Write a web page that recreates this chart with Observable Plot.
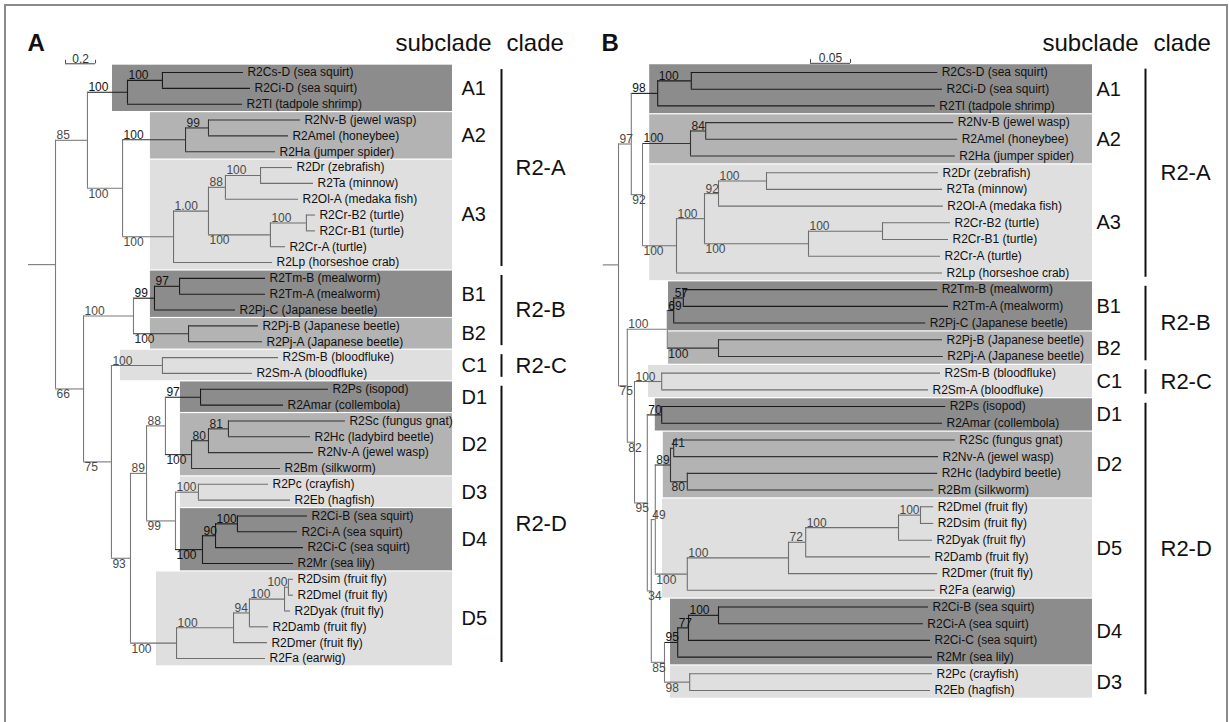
<!DOCTYPE html>
<html>
<head>
<meta charset="utf-8">
<script src="https://cdn.jsdelivr.net/npm/d3@7"></script>
<script src="https://cdn.jsdelivr.net/npm/@observablehq/plot@0.6"></script>
<style>
  html, body { margin: 0; padding: 0; background: #fff; }
  #fig { position: relative; width: 1229px; height: 722px; overflow: hidden; background: #fff; }
  #frame { position: absolute; left: 4px; top: 4px; width: 1220px; height: 760px; border: 2px solid #8a8a8a; box-sizing: content-box; }
  #fig svg { position: absolute; top: 0; overflow: visible; }
</style>
</head>
<body>
<div id="fig"><div id="frame"></div></div>
<script>
// ---------------- DATA ----------------
// Panel A: internal nodes [id, parent, depth (subst./site), bootstrap]
const nodesA = [
  ["stem", null, -0.18, ""],
  ["root", "stem", 0, ""],
  ["n85", "root", 0.213, "85"],
  ["a1", "n85", 0.48, "100"],
  ["csci", "a1", 0.713, "100"],
  ["a23", "n85", 0.447, "100"],
  ["a2", "a23", 0.867, "100"],
  ["nvam", "a2", 1.02, "99"],
  ["a3", "a23", 0.787, "100"],
  ["n100", "a3", 1.02, "1.00"],
  ["n88", "n100", 1.133, "88"],
  ["drta", "n88", 1.367, "100"],
  ["cr", "n100", 1.433, "100"],
  ["crb", "cr", 1.673, "100"],
  ["n66", "root", 0.187, "66"],
  ["b", "n66", 0.52, "100"],
  ["b1", "b", 0.66, "99"],
  ["tm", "b1", 0.827, "97"],
  ["b2", "b", 0.887, "100"],
  ["n75", "n66", 0.373, "75"],
  ["c1", "n75", 0.713, "100"],
  ["n93", "n75", 0.50, "93"],
  ["n89", "n93", 0.607, "89"],
  ["n88d", "n89", 0.733, "88"],
  ["d1", "n88d", 0.967, "97"],
  ["d2", "n88d", 0.907, "100"],
  ["n80", "d2", 1.02, "80"],
  ["n81", "n80", 1.153, "81"],
  ["n99", "n89", 0.80, "99"],
  ["d3", "n99", 0.953, "100"],
  ["d4", "n99", 0.98, "100"],
  ["n90", "d4", 1.067, "90"],
  ["ciba", "n90", 1.213, "100"],
  ["d5", "n93", 0.807, "100"],
  ["n100d", "d5", 1.187, "100"],
  ["n94", "n100d", 1.293, "94"],
  ["n100e", "n94", 1.527, "100"],
  ["dsdm", "n100e", 1.553, "100"]
];
// Panel A: leaves [name, organism, parent, depth, subclade]
const leavesA = [
  ["R2Cs-D", "sea squirt", "csci", 1.253, "A1"],
  ["R2Ci-D", "sea squirt", "csci", 1.30, "A1"],
  ["R2Tl", "tadpole shrimp", "a1", 1.247, "A1"],
  ["R2Nv-B", "jewel wasp", "nvam", 1.633, "A2"],
  ["R2Amel", "honeybee", "nvam", 1.553, "A2"],
  ["R2Ha", "jumper spider", "a2", 1.467, "A2"],
  ["R2Dr", "zebrafish", "drta", 1.58, "A3"],
  ["R2Ta", "minnow", "drta", 1.72, "A3"],
  ["R2Ol-A", "medaka fish", "n88", 1.62, "A3"],
  ["R2Cr-B2", "turtle", "crb", 1.733, "A3"],
  ["R2Cr-B1", "turtle", "crb", 1.733, "A3"],
  ["R2Cr-A", "turtle", "cr", 1.533, "A3"],
  ["R2Lp", "horseshoe crab", "a3", 1.447, "A3"],
  ["R2Tm-B", "mealworm", "tm", 1.40, "B1"],
  ["R2Tm-A", "mealworm", "tm", 1.40, "B1"],
  ["R2Pj-C", "Japanese beetle", "b1", 1.20, "B1"],
  ["R2Pj-B", "Japanese beetle", "b2", 1.353, "B2"],
  ["R2Pj-A", "Japanese beetle", "b2", 1.38, "B2"],
  ["R2Sm-B", "bloodfluke", "c1", 1.487, "C1"],
  ["R2Sm-A", "bloodfluke", "c1", 1.313, "C1"],
  ["R2Ps", "isopod", "d1", 1.82, "D1"],
  ["R2Amar", "collembola", "d1", 1.52, "D1"],
  ["R2Sc", "fungus gnat", "n81", 1.933, "D2"],
  ["R2Hc", "ladybird beetle", "n81", 1.70, "D2"],
  ["R2Nv-A", "jewel wasp", "n80", 1.72, "D2"],
  ["R2Bm", "silkworm", "d2", 1.50, "D2"],
  ["R2Pc", "crayfish", "d3", 1.42, "D3"],
  ["R2Eb", "hagfish", "d3", 1.567, "D3"],
  ["R2Ci-B", "sea squirt", "ciba", 1.68, "D4"],
  ["R2Ci-A", "sea squirt", "ciba", 1.613, "D4"],
  ["R2Ci-C", "sea squirt", "n90", 1.653, "D4"],
  ["R2Mr", "sea lily", "d4", 1.587, "D4"],
  ["R2Dsim", "fruit fly", "dsdm", 1.587, "D5"],
  ["R2Dmel", "fruit fly", "dsdm", 1.587, "D5"],
  ["R2Dyak", "fruit fly", "n100e", 1.567, "D5"],
  ["R2Damb", "fruit fly", "n94", 1.42, "D5"],
  ["R2Dmer", "fruit fly", "n100d", 1.413, "D5"],
  ["R2Fa", "earwig", "d5", 1.40, "D5"]
];
// Panel A: depth where each subclade's shading begins
const shadeStartA = {A1: 0.38, A2: 0.633, A3: 0.633, B1: 0.633, B2: 0.633, C1: 0.433,
                     D1: 0.833, D2: 0.833, D3: 0.833, D4: 0.833, D5: 0.673};
const scaleBarA = {from: 0.067, length: 0.2, label: "0.2"};

// Panel B: internal nodes [id, parent, depth, bootstrap]
const nodesB = [
  ["stem", null, -0.019, ""],
  ["root", "stem", 0, ""],
  ["n97", "root", 0.016, "97"],
  ["a1", "n97", 0.049, "98"],
  ["csci", "a1", 0.091, "100"],
  ["n92", "n97", 0.030, "92"],
  ["a2", "n92", 0.090, "100"],
  ["nvam", "a2", 0.109, "84"],
  ["a3", "n92", 0.0725, "100"],
  ["n100", "a3", 0.1075, "100"],
  ["n92b", "n100", 0.125, "92"],
  ["drta", "n92b", 0.185, "100"],
  ["cr", "n100", 0.2375, "100"],
  ["crb", "cr", 0.33, "100"],
  ["n75", "root", 0.011, "75"],
  ["b", "n75", 0.061, "100"],
  ["b1", "b", 0.069, "69"],
  ["tm", "b1", 0.081, "57"],
  ["b2", "b", 0.125, "100"],
  ["n82", "n75", 0.020, "82"],
  ["c1", "n82", 0.054, "100"],
  ["n95", "n82", 0.036, "95"],
  ["d1", "n95", 0.054, "70"],
  ["n34", "n95", 0.041, "34"],
  ["n49", "n34", 0.046, "49"],
  ["d2", "n49", 0.065, "89"],
  ["n41", "d2", 0.069, "41"],
  ["n80", "d2", 0.086, "80"],
  ["d5", "n49", 0.086, "100"],
  ["n100f", "d5", 0.2125, "100"],
  ["n72", "n100f", 0.234, "72"],
  ["n100g", "n72", 0.35, "100"],
  ["dmds", "n100g", 0.3775, "100"],
  ["n85", "n34", 0.0575, "85"],
  ["d4", "n85", 0.074, "95"],
  ["n77", "d4", 0.0875, "77"],
  ["ciba", "n77", 0.125, "100"],
  ["d3", "n85", 0.089, "98"]
];
const leavesB = [
  ["R2Cs-D", "sea squirt", "csci", 0.399, "A1"],
  ["R2Ci-D", "sea squirt", "csci", 0.405, "A1"],
  ["R2Tl", "tadpole shrimp", "a1", 0.396, "A1"],
  ["R2Nv-B", "jewel wasp", "nvam", 0.419, "A2"],
  ["R2Amel", "honeybee", "nvam", 0.424, "A2"],
  ["R2Ha", "jumper spider", "a2", 0.421, "A2"],
  ["R2Dr", "zebrafish", "drta", 0.40, "A3"],
  ["R2Ta", "minnow", "drta", 0.405, "A3"],
  ["R2Ol-A", "medaka fish", "n92b", 0.406, "A3"],
  ["R2Cr-B2", "turtle", "crb", 0.415, "A3"],
  ["R2Cr-B1", "turtle", "crb", 0.4125, "A3"],
  ["R2Cr-A", "turtle", "cr", 0.4025, "A3"],
  ["R2Lp", "horseshoe crab", "a3", 0.405, "A3"],
  ["R2Tm-B", "mealworm", "tm", 0.399, "B1"],
  ["R2Tm-A", "mealworm", "tm", 0.4125, "B1"],
  ["R2Pj-C", "Japanese beetle", "b1", 0.384, "B1"],
  ["R2Pj-B", "Japanese beetle", "b2", 0.405, "B2"],
  ["R2Pj-A", "Japanese beetle", "b2", 0.406, "B2"],
  ["R2Sm-B", "bloodfluke", "c1", 0.4025, "C1"],
  ["R2Sm-A", "bloodfluke", "c1", 0.3875, "C1"],
  ["R2Ps", "isopod", "d1", 0.409, "D1"],
  ["R2Amar", "collembola", "d1", 0.405, "D1"],
  ["R2Sc", "fungus gnat", "n41", 0.421, "D2"],
  ["R2Nv-A", "jewel wasp", "n41", 0.40, "D2"],
  ["R2Hc", "ladybird beetle", "n80", 0.399, "D2"],
  ["R2Bm", "silkworm", "n80", 0.394, "D2"],
  ["R2Dmel", "fruit fly", "dmds", 0.394, "D5"],
  ["R2Dsim", "fruit fly", "dmds", 0.394, "D5"],
  ["R2Dyak", "fruit fly", "n100g", 0.3925, "D5"],
  ["R2Damb", "fruit fly", "n72", 0.39, "D5"],
  ["R2Dmer", "fruit fly", "n100f", 0.399, "D5"],
  ["R2Fa", "earwig", "d5", 0.396, "D5"],
  ["R2Ci-B", "sea squirt", "ciba", 0.3875, "D4"],
  ["R2Ci-A", "sea squirt", "ciba", 0.381, "D4"],
  ["R2Ci-C", "sea squirt", "n77", 0.39, "D4"],
  ["R2Mr", "sea lily", "d4", 0.3925, "D4"],
  ["R2Pc", "crayfish", "d3", 0.3925, "D3"],
  ["R2Eb", "hagfish", "d3", 0.39, "D3"]
];
const shadeStartB = {A1: 0.039, A2: 0.039, A3: 0.039, B1: 0.0625, B2: 0.0625, C1: 0.0375,
                     D1: 0.046, D2: 0.056, D5: 0.055, D4: 0.065, D3: 0.065};
const scaleBarB = {from: 0.24, length: 0.05, label: "0.05"};

// ---------------- STYLE ----------------
const FONT = '"Liberation Sans", Arial, Helvetica, sans-serif';
const shadeOf = {A1: "dark", A2: "mid", A3: "light", B1: "dark", B2: "mid", C1: "light",
                 D1: "dark", D2: "mid", D3: "light", D4: "dark", D5: "light"};
const fills = {dark: "#8c8c8c", mid: "#b3b3b3", light: "#dfdfdf"};
const lineCol = {dark: "#1a1a1a", mid: "#333333", light: "#6f6f6f", none: "#7a7a7a"};
const supCol = {dark: "#111111", mid: "#222222", light: "#4a4a4a", none: "#4a4a4a"};

// ---------------- LAYOUT ----------------
function buildTree(nodes, leaves) {
  const map = new Map();
  for (const [id, parent, depth, support] of nodes)
    map.set(id, {id, parent, x: depth, support, children: [], leaf: false});
  leaves.forEach(([name, org, parent, depth, sub], i) =>
    map.set(name, {id: name, parent, x: depth, y: i, children: [], leaf: true, sub, label: `${name} (${org})`}));
  const all = [...map.values()];
  for (const n of all) { n.p = n.parent ? map.get(n.parent) : null; if (n.p) n.p.children.push(n); }
  const root = all.find(n => !n.p);
  (function visit(n) {
    if (n.leaf) return;
    n.children.forEach(visit);
    n.y1 = d3.min(n.children, c => c.y);
    n.y2 = d3.max(n.children, c => c.y);
    n.y = (n.y1 + n.y2) / 2;
    const subs = new Set(n.children.map(c => c.sub));
    n.sub = subs.size === 1 ? n.children[0].sub : null;
  })(root);
  for (const n of all) n.tone = n.sub ? shadeOf[n.sub] : "none";
  return all;
}

function groupsBy(leaves, key) {
  return d3.groups(leaves.map((l, i) => ({k: key(l), i})), d => d.k)
    .map(([name, arr]) => ({name, first: d3.min(arr, d => d.i), last: d3.max(arr, d => d.i)}));
}

function panel(cfg) {
  const {nodes, leaves, starts, xDomain, width, marginLeft, marginRight, marginBottom, letter, bar, rightAligned, col} = cfg;
  const all = buildTree(nodes, leaves);
  const xMax = xDomain[1];
  const links = all.filter(n => n.p);
  const internals = all.filter(n => !n.leaf && n.children.length > 1);
  const tips = all.filter(n => n.leaf);
  const sup = all.filter(n => n.support);
  const above = sup.filter(n => n.y < n.p.y && !rightAligned.includes(n.id));
  const below = sup.filter(n => n.y >= n.p.y && !rightAligned.includes(n.id));
  const ends = sup.filter(n => rightAligned.includes(n.id));
  const subs = groupsBy(leaves, l => l[4]).map(d => ({...d, start: starts[d.name], tone: shadeOf[d.name]}));
  const clades = groupsBy(leaves, l => "R2-" + l[4][0]);
  const barY = -0.55;
  return Plot.plot({
    width, height: 722, marginLeft, marginRight, marginTop: 72, marginBottom,
    x: {domain: xDomain, axis: null},
    y: {domain: [0, leaves.length - 1], reverse: true, axis: null},
    color: {type: "identity"},
    style: {fontFamily: FONT, background: "transparent", overflow: "visible"},
    marks: [
      Plot.rect(subs, {x1: "start", x2: () => xMax, y1: d => d.first - 0.5, y2: d => d.last + 0.5,
        fill: d => fills[d.tone], insetTop: 0.6, insetBottom: 0.6}),
      Plot.ruleY(links, {y: "y", x1: d => d.p.x, x2: "x", stroke: d => lineCol[d.tone], strokeWidth: 1.1}),
      Plot.ruleX(internals, {x: "x", y1: "y1", y2: "y2", stroke: d => lineCol[d.tone], strokeWidth: 1.1}),
      Plot.text(tips, {x: "x", y: "y", text: "label", textAnchor: "start", dx: 4, fontSize: 12, fill: "#111"}),
      Plot.text(above, {x: d => d.p.x, y: "y", text: "support", textAnchor: "start", dx: 1, dy: -1,
        lineAnchor: "bottom", fontSize: 12, fill: d => supCol[d.tone]}),
      Plot.text(below, {x: d => d.p.x, y: "y", text: "support", textAnchor: "start", dx: 1, dy: 1,
        lineAnchor: "top", fontSize: 12, fill: d => supCol[d.tone]}),
      Plot.text(ends, {x: "x", y: "y", text: "support", textAnchor: "end", dx: -1, dy: -1,
        lineAnchor: "bottom", fontSize: 12, fill: d => supCol[d.tone]}),
      // scale bar
      Plot.ruleY([bar], {y: () => barY, x1: d => d.from, x2: d => d.from + d.length, stroke: "#444"}),
      Plot.ruleX([bar.from, bar.from + bar.length], {x: d => d, y1: () => barY, y2: () => barY - 0.22, stroke: "#444"}),
      Plot.text([bar], {x: d => d.from + d.length / 2, y: () => barY, text: "label", dy: -1,
        lineAnchor: "bottom", fontSize: 12, fill: "#333"}),
      // subclade & clade columns
      Plot.text(subs, {x: () => xMax, y: d => (d.first + d.last) / 2, text: "name", textAnchor: "start",
        dx: col.sub, fontSize: 20, fill: "#111"}),
      Plot.ruleX(clades, {x: () => xMax, y1: d => d.first - 0.5, y2: d => d.last + 0.5, dx: col.bar,
        insetTop: 5, insetBottom: 4, strokeWidth: 2, stroke: "#111"}),
      Plot.text(clades, {x: () => xMax, y: d => (d.first + d.last) / 2, text: "name", textAnchor: "start",
        dx: col.clade, fontSize: 22, fill: "#111"}),
      // headers
      Plot.text([letter], {frameAnchor: "top-left", text: d => d, dx: col.letter, dy: -22, lineAnchor: "bottom",
        textAnchor: "start", fontSize: 24, fontWeight: "bold", fill: "#111"}),
      Plot.text(["subclade"], {frameAnchor: "top-right", text: d => d, dx: col.subHead, dy: -22, lineAnchor: "bottom",
        textAnchor: "start", fontSize: 24, fill: "#111"}),
      Plot.text(["clade"], {frameAnchor: "top-right", text: d => d, dx: col.cladeHead, dy: -22, lineAnchor: "bottom",
        textAnchor: "start", fontSize: 24, fill: "#111"})
    ]
  });
}

const fig = document.getElementById("fig");
const svgA = panel({
  nodes: nodesA, leaves: leavesA, starts: shadeStartA, xDomain: [0, 2.647],
  width: 590, marginLeft: 55, marginRight: 138, marginBottom: 64,
  letter: "A", bar: scaleBarA, rightAligned: ["dsdm"],
  col: {sub: 9, bar: 49, clade: 63, letter: -28, subHead: -57, cladeHead: 54}
});
svgA.style.left = "0px";
fig.appendChild(svgA);

const svgB = panel({
  nodes: nodesB, leaves: leavesB, starts: shadeStartB, xDomain: [0, 0.5925],
  width: 639, marginLeft: 28, marginRight: 137, marginBottom: 32,
  letter: "B", bar: scaleBarB, rightAligned: [],
  col: {sub: 4, bar: 53, clade: 68, letter: -17, subHead: -50, cladeHead: 61}
});
svgB.style.left = "590px";
fig.appendChild(svgB);
</script>
</body>
</html>
